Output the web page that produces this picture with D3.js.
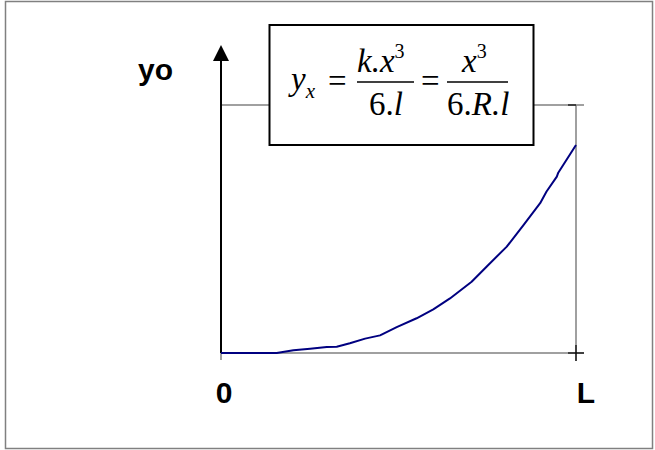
<!DOCTYPE html>
<html>
<head>
<meta charset="utf-8">
<script src="https://cdn.jsdelivr.net/npm/d3@7"></script>
<style>
  body { margin: 0; background: #fff; }
  svg { display: block; }
  .lbl { font-family: "Liberation Sans", Arial, sans-serif; font-weight: bold; font-size: 30px; fill: #000; }
  .eq { font-family: "Liberation Serif", "Times New Roman", serif; fill: #000; }
</style>
</head>
<body>
<svg id="chart" width="655" height="450"></svg>
<script>
// deflection curve, x as % of L, y as % of the axis height
const xPct = [0, 15.7, 20.4, 25.1, 29.8, 32.6, 36.3, 40.6, 44.8, 49.5, 55.1, 59.8, 64.5, 70.6, 74.8, 80.5, 85.2, 89.9, 91.7, 94.6, 95.0, 100];
const yPct = [0, 0, 1.1, 1.7, 2.4, 2.5, 3.9, 5.8, 7.1, 10.4, 14.0, 17.6, 22.0, 28.7, 34.8, 42.9, 51.6, 60.4, 65.1, 71.1, 72.7, 83.9];
const xLabels = ["0", "L"];
const yLabel = "yo";

const svg = d3.select("#chart");
const plot = { left: 221, right: 576, top: 105, bottom: 353 };

const x = d3.scaleLinear().domain([0, 100]).range([plot.left, plot.right]);
const y = d3.scaleLinear().domain([0, 100]).range([plot.bottom, plot.top]);

// outer frame
svg.append("rect")
  .attr("x", 5.5).attr("y", 1.5)
  .attr("width", 647).attr("height", 447)
  .attr("fill", "none").attr("stroke", "#808080").attr("stroke-width", 1.5);

// gray plot frame: top, right, bottom
const frame = svg.append("g").attr("stroke", "#808080").attr("stroke-width", 1.5).attr("fill", "none");
frame.append("line").attr("x1", x(0)).attr("x2", x(100) + 8).attr("y1", y(100)).attr("y2", y(100));
frame.append("line").attr("x1", x(0)).attr("x2", x(100) + 8).attr("y1", y(0)).attr("y2", y(0));
frame.append("line").attr("x1", x(100)).attr("x2", x(100)).attr("y1", y(100)).attr("y2", y(0) + 8);
frame.append("line").attr("x1", x(0)).attr("x2", x(0)).attr("y1", y(0)).attr("y2", y(0) + 7);

// black tick marks on the right
const ticks = svg.append("g").attr("stroke", "#000").attr("stroke-width", 1.2);
ticks.append("line").attr("x1", x(100) - 8).attr("x2", x(100) + 8).attr("y1", y(0)).attr("y2", y(0));
ticks.append("line").attr("x1", x(100)).attr("x2", x(100)).attr("y1", y(0) - 8).attr("y2", y(0) + 8);
ticks.append("line").attr("x1", x(100) - 8).attr("x2", x(100)).attr("y1", y(100)).attr("y2", y(100));

// y axis with arrow
svg.append("line")
  .attr("x1", x(0)).attr("x2", x(0))
  .attr("y1", y(0)).attr("y2", 58)
  .attr("stroke", "#000").attr("stroke-width", 2);
svg.append("path")
  .attr("d", d3.line()([[x(0) - 8, 61], [x(0), 45], [x(0) + 8, 61]]) + "Z")
  .attr("fill", "#000");

// curve
const line = d3.line()
  .x((d, i) => x(xPct[i]))
  .y((d, i) => y(yPct[i]));
svg.append("path")
  .datum(xPct)
  .attr("d", line)
  .attr("fill", "none")
  .attr("stroke", "#000080")
  .attr("stroke-width", 2)
  .attr("stroke-linejoin", "round");

// labels
svg.append("text").attr("class", "lbl")
  .attr("x", 138).attr("y", 80).text(yLabel);
svg.selectAll("text.xl")
  .data(xLabels)
  .enter().append("text")
  .attr("class", "lbl xl")
  .attr("x", (d, i) => i === 0 ? x(0) + 3 : x(100) + 10)
  .attr("y", 403)
  .attr("text-anchor", "middle")
  .text(d => d);

// formula box
svg.append("rect")
  .attr("x", 269.5).attr("y", 25)
  .attr("width", 264).attr("height", 120)
  .attr("fill", "#fff").attr("stroke", "#000").attr("stroke-width", 2);

const eq = svg.append("g").attr("class", "eq").attr("font-size", 33);

// each piece: array of [text, italic, size, baseline shift]
function piece(parts, px, py) {
  const txt = eq.append("text").attr("x", px).attr("y", py);
  parts.forEach(([s, it, size, dy]) => {
    txt.append("tspan")
      .attr("font-style", it ? "italic" : "normal")
      .attr("font-size", size || null)
      .attr("dy", dy || 0)
      .text(s);
  });
}
piece([["y", true], ["x", true, 21, 8]], 291, 90);
piece([["="]], 328, 92);
piece([["k.x", true], ["3", false, 20, -14]], 357, 72);
piece([["6."], ["l", true]], 369, 115);
piece([["="]], 421, 92);
piece([["x", true], ["3", false, 20, -14]], 462, 72);
piece([["6."], ["R.l", true]], 447, 115);

eq.append("line").attr("x1", 357).attr("x2", 414).attr("y1", 82).attr("y2", 82)
  .attr("stroke", "#000").attr("stroke-width", 1.3);
eq.append("line").attr("x1", 447).attr("x2", 508).attr("y1", 82).attr("y2", 82)
  .attr("stroke", "#000").attr("stroke-width", 1.3);
</script>
</body>
</html>
